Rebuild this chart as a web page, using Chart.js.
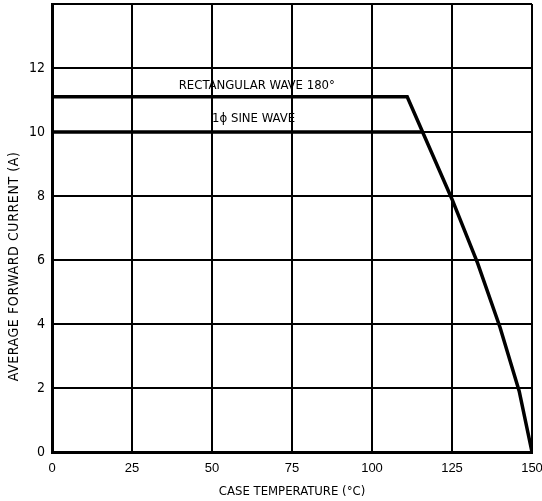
<!DOCTYPE html>
<html>
<head>
<meta charset="utf-8">
<script src="https://cdn.jsdelivr.net/npm/chart.js@4/dist/chart.umd.min.js"></script>
<style>
  html, body { margin: 0; padding: 0; background: #fff; }
  #wrap { width: 542px; height: 501px; }
</style>
</head>
<body>
<div id="wrap"><canvas id="myChart"></canvas></div>
<script>
const rectTemp = [0, 111, 125, 133, 140, 146, 150]
const rectCurrent = [11.1, 11.1, 7.9, 5.9, 3.9, 1.9, 0]
const sineTemp = [0, 115.6]
const sineCurrent = [10, 10]
const xTicks = [0, 25, 50, 75, 100, 125, 150]
const yTicks = [0, 2, 4, 6, 8, 10, 12]

const family = "'DejaVu Sans', sans-serif"
// weight slot carries the font-stretch keyword so the canvas picks the condensed face
const narrow = { family: family, size: 13, style: 'normal', weight: 'condensed' }
const yTickFont = { family: family, size: 14, style: 'normal', weight: 'condensed' }
// "150" sits right on the canvas edge, so the x labels use the narrower Liberation face
const xTickFont = { family: "'Liberation Sans', sans-serif", size: 13 }

const toPoints = (xs, ys) => xs.map((x, i) => ({ x: x, y: ys[i] }))

// labels written on the plot next to the curves, plus the y axis title
// (drawn by hand because it sits lower than the plot centre in the original)
const curveLabels = {
    id: 'curveLabels',
    afterDatasetsDraw(chart) {
        const { ctx, scales: { x, y } } = chart
        ctx.save()
        ctx.fillStyle = '#000'
        ctx.font = 'normal condensed 13px ' + family
        ctx.textAlign = 'center'
        ctx.textBaseline = 'middle'
        ctx.fillText('RECTANGULAR WAVE 180°', x.getPixelForValue(64), y.getPixelForValue(11.45))
        ctx.fillText('1ϕ SINE WAVE', x.getPixelForValue(63), y.getPixelForValue(10.42))

        ctx.translate(14, y.getPixelForValue(5.8))
        ctx.rotate(-Math.PI / 2)
        ctx.font = 'normal condensed 14px ' + family
        ctx.letterSpacing = '0.6px'
        ctx.fillText('AVERAGE FORWARD CURRENT (A)', 0, 0)
        ctx.restore()
    }
}

const ctx = document.getElementById('myChart').getContext('2d')
const chart = new Chart(ctx, {
    type: 'scatter',
    data: {
        datasets: [{
            label: 'RECTANGULAR WAVE 180°',
            data: toPoints(rectTemp, rectCurrent),
            showLine: true,
            borderColor: '#000',
            borderWidth: 3.5,
            pointRadius: 0,
            tension: 0
        }, {
            label: '1ϕ SINE WAVE',
            data: toPoints(sineTemp, sineCurrent),
            showLine: true,
            borderColor: '#000',
            borderWidth: 3.5,
            pointRadius: 0
        }]
    },
    options: {
        responsive: true,
        maintainAspectRatio: false,
        animation: false,
        layout: { padding: { top: 4, right: 10, left: 0, bottom: 0 } },
        plugins: { legend: { display: false }, tooltip: { enabled: false } },
        scales: {
            x: {
                type: 'linear',
                min: 0,
                max: 150,
                afterBuildTicks: (scale) => { scale.ticks = xTicks.map(v => ({ value: v })) },
                afterFit: (scale) => {
                    scale.height = 49
                    scale.paddingLeft = 0
                    scale.paddingRight = 0
                },
                ticks: { color: '#000', font: xTickFont, padding: 9, maxRotation: 0 },
                grid: { color: '#000', lineWidth: 2, drawTicks: false },
                border: { color: '#000', width: 3 },
                title: {
                    display: true,
                    text: 'CASE TEMPERATURE (°C)',
                    color: '#000',
                    font: narrow,
                    padding: { top: 2, bottom: 2 }
                }
            },
            y: {
                type: 'linear',
                min: 0,
                max: 14,
                afterBuildTicks: (scale) => { scale.ticks = yTicks.concat([14]).map(v => ({ value: v })) },
                afterFit: (scale) => {
                    scale.width = 52
                    scale.paddingTop = 0
                    scale.paddingBottom = 0
                },
                ticks: {
                    color: '#000',
                    font: yTickFont,
                    padding: 7,
                    callback: (v) => v === 14 ? '' : v
                },
                grid: { color: '#000', lineWidth: 2, drawTicks: false },
                border: { color: '#000', width: 3 },
                title: { display: false }
            }
        }
    },
    plugins: [curveLabels]
})
</script>
</body>
</html>
